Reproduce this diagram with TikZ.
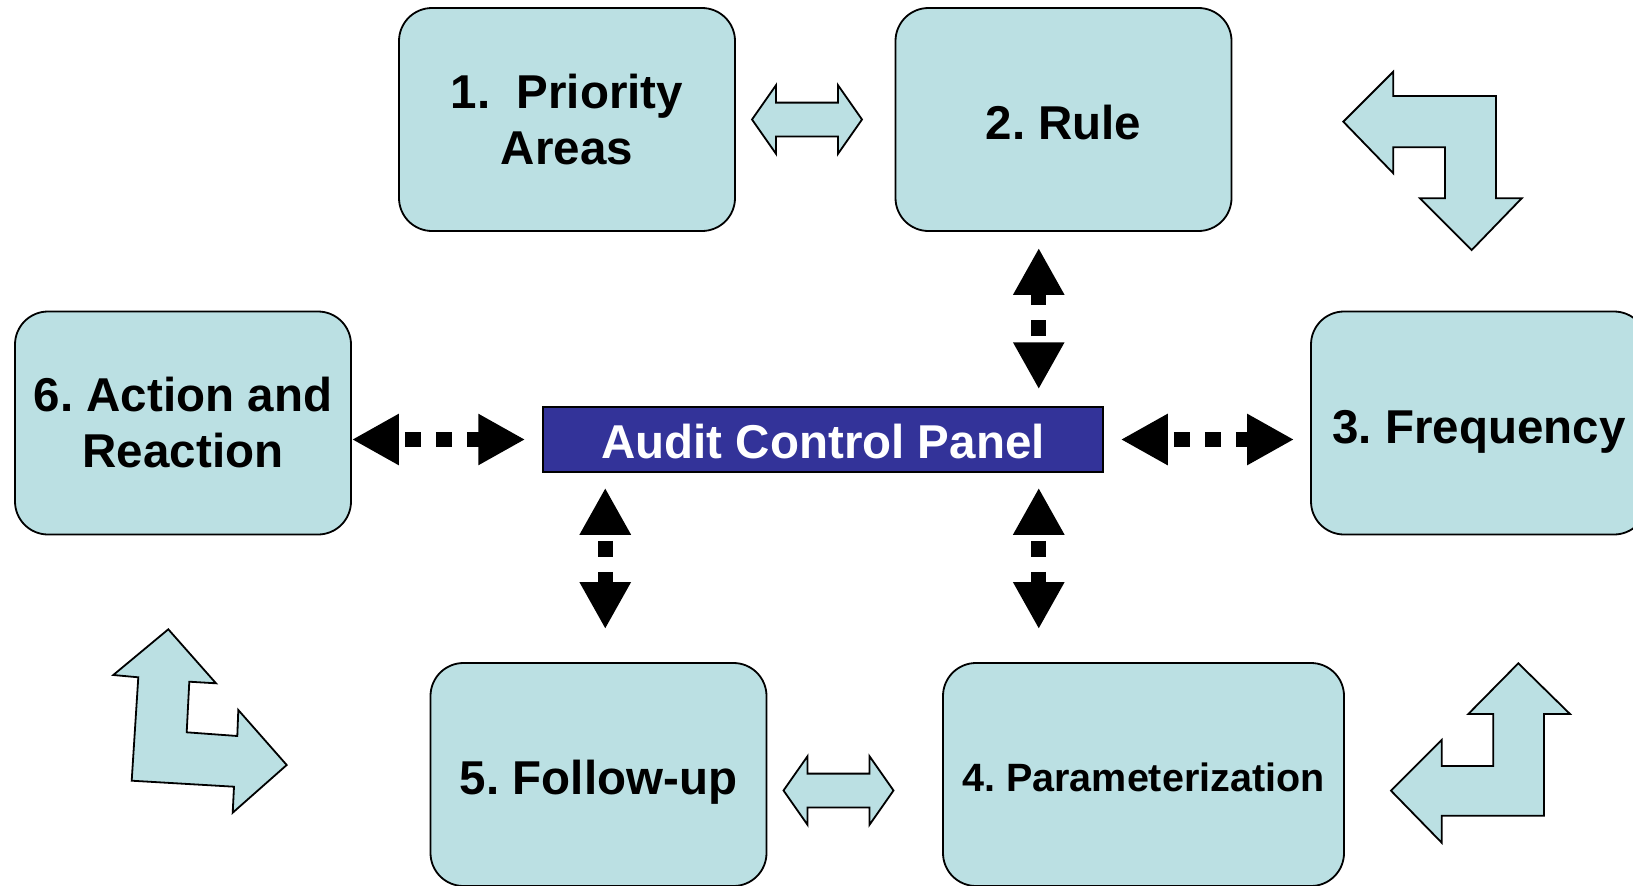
\documentclass[tikz,border=0pt]{standalone}
\usepackage{fontspec}
\setmainfont{Liberation Sans}
\frenchspacing
\usetikzlibrary{arrows.meta,positioning,shapes.arrows}
\definecolor{boxblue}{RGB}{187,224,227}
\definecolor{panelblue}{RGB}{51,51,153}
\tikzset{
    %Define style for the step boxes
    stepbox/.style={
           rectangle,
           rounded corners=33pt,
           fill=boxblue,
           draw=black, line width=1.8pt,
           minimum width=336pt,
           minimum height=223pt,
           inner sep=0pt,
           align=center,
           font=\bfseries\fontsize{47.5}{56}\selectfont},
    % one line of text, kept on a fixed baseline
    oneline/.style={
           text height=40pt,
           text depth=0pt},
    %Define style for the panel in the middle
    panelbox/.style={
           rectangle,
           fill=panelblue,
           draw=black, line width=1.5pt,
           minimum width=560pt,
           minimum height=65pt,
           inner sep=0pt,
           text height=38pt,
           text depth=0pt,
           text=white,
           font=\bfseries\fontsize{47.5}{56}\selectfont},
    % Define style for the dotted arrows
    dotpil/.style={
           line width=15pt,
           dash pattern=on 16pt off 15pt,
           dash phase=22pt,
           {Triangle[length=47pt,width=48pt]}-{Triangle[length=47pt,width=48pt]}},
    % Define style for the block arrows
    dblpil/.style={
           double arrow,
           double arrow tip angle=110,
           double arrow head extend=17.5pt,
           minimum height=110pt,
           inner xsep=0pt,
           inner ysep=16pt,
           fill=boxblue,
           draw=black, line width=1.8pt},
    turnpil/.style={
           fill=boxblue,
           draw=black, line width=1.8pt,
           line join=miter}
}
\begin{document}
\begin{tikzpicture}[x=1pt,y=-1pt]
 \path[use as bounding box,clip] (0,0) rectangle (1633,886);
 %nodes
 \node[panelbox] (panel) at (823,439.5) {Audit Control Panel};
 \node[stepbox] (prio) at (567,119.5) {1.\ \ Priority\\Areas};
 \node[stepbox, oneline] (rule) at (1063.5,119.5) {2. Rule};
 \node[stepbox, oneline] (freq) at (1479,423) {3. Frequency};
 \node[stepbox, oneline, minimum width=401pt, text height=33pt,
       font=\bfseries\fontsize{39.5}{46}\selectfont] (param) at (1143.5,774.5) {4. Parameterization};
 \node[stepbox, oneline] (follow) at (598.5,774.5) {5. Follow-up};
 \node[stepbox] (action) at (183,423) {6. Action and\\Reaction};
 % block arrows between the steps
 \node[dblpil, right=15pt of prio] (prule) {};
 \node[dblpil, right=15pt of follow, yshift=-16pt] (fparam) {};
 % dotted arrows to and from the panel
 \draw[dotpil, shorten >=17pt] (action.east |- panel.west) -- (panel.west);
 \draw[dotpil, shorten <=17pt, shorten >=16pt] (panel.east) -- (freq.west |- panel.east);
 \draw[dotpil, shorten <=17pt, shorten >=16pt]
   ([xshift=-65pt]panel.north east) -- ([xshift=-65pt]panel.north east |- rule.south);
 \draw[dotpil, shorten <=15pt, shorten >=33pt]
   ([xshift=-65pt]panel.south east) -- ([xshift=-65pt]panel.south east |- param.north);
 \draw[dotpil, shorten <=15pt, shorten >=33pt]
   ([xshift=63pt]panel.south west) -- ([xshift=63pt]panel.south west |- follow.north);
 % turning arrows in the corners
 \draw[turnpil] (1343.3,121.7) -- (1393.3,71.7) -- (1393.3,96) -- (1496,96)
   -- (1496,198.3) -- (1521.7,198.3) -- (1471.7,250) -- (1420,198.3) -- (1445,198.3)
   -- (1445,147.3) -- (1393.3,147.3) -- (1393.3,173.3) -- cycle;
 \draw[turnpil] (168.3,629.3) -- (216,683.3) -- (189.3,681.7) -- (186.7,732.3)
   -- (237.3,736) -- (238.3,710) -- (286.7,765) -- (232.7,812.7) -- (234,786.7)
   -- (131.7,780.7) -- (138.3,677.3) -- (113.3,675) -- cycle;
 \draw[turnpil] (1518.3,663.3) -- (1570,714) -- (1544,714) -- (1544,815.7)
   -- (1441.7,815.7) -- (1441.7,842.7) -- (1391,790.7) -- (1441.7,740) -- (1441.7,766)
   -- (1493.3,766) -- (1493.3,714) -- (1468.3,714) -- cycle;
\end{tikzpicture}
\end{document}
